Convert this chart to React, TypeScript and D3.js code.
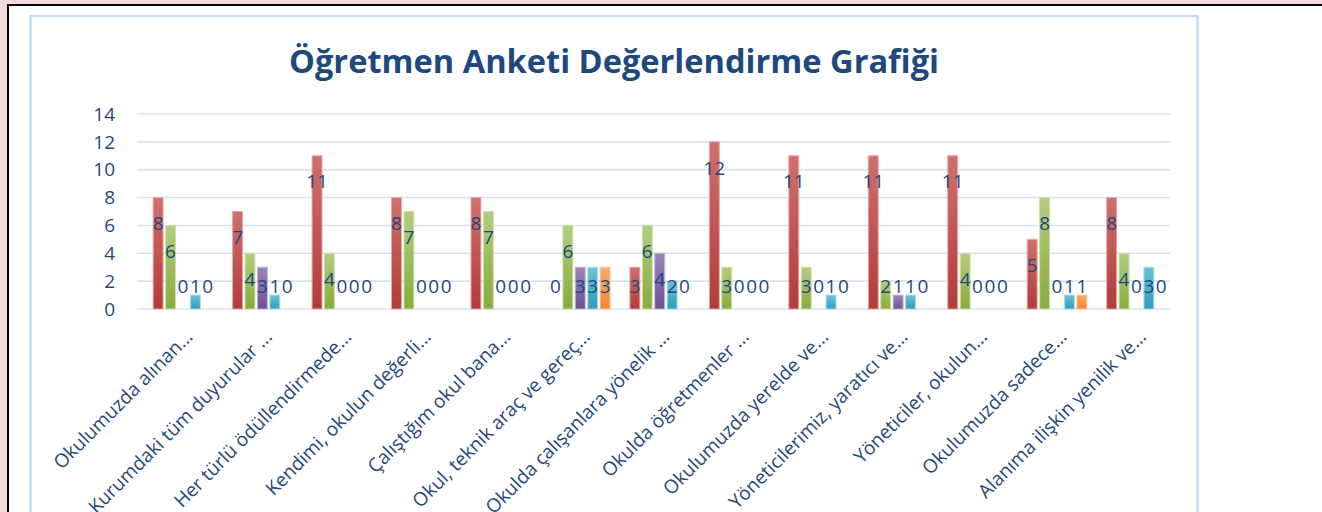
import React from 'react'
import * as d3 from 'd3'

const categories = [
  'Okulumuzda alınan...',
  'Kurumdaki tüm duyurular ...',
  'Her türlü ödüllendirmede...',
  'Kendimi, okulun değerli...',
  'Çalıştığım okul bana...',
  'Okul, teknik araç ve gereç...',
  'Okulda çalışanlara yönelik ...',
  'Okulda öğretmenler ...',
  'Okulumuzda yerelde ve...',
  'Yöneticilerimiz, yaratıcı ve...',
  'Yöneticiler, okulun...',
  'Okulumuzda sadece...',
  'Alanıma ilişkin yenilik ve...',
]

const seriesNames = ['Kesinlikle Katılıyorum', 'Katılıyorum', 'Kararsızım', 'Katılmıyorum', 'Kesinlikle Katılmıyorum']

// one array per series, in category order
const kesinlikleKatiliyorum = [8, 7, 11, 8, 8, 0, 3, 12, 11, 11, 11, 5, 8]
const katiliyorum = [6, 4, 4, 7, 7, 6, 6, 3, 3, 2, 4, 8, 4]
const kararsizim = [0, 3, 0, 0, 0, 3, 4, 0, 0, 1, 0, 0, 0]
const katilmiyorum = [1, 1, 0, 0, 0, 3, 2, 0, 1, 1, 0, 1, 3]
const kesinlikleKatilmiyorum = [0, 0, 0, 0, 0, 3, 0, 0, 0, 0, 0, 1, 0]

const seriesValues = [kesinlikleKatiliyorum, katiliyorum, kararsizim, katilmiyorum, kesinlikleKatilmiyorum]
const yTicks = [0, 2, 4, 6, 8, 10, 12, 14]

const colors = [
  { top: '#d0706d', bot: '#b23b38', edge: '#e3a9a7' },
  { top: '#b3cd80', bot: '#88ab3e', edge: '#cfe0ad' },
  { top: '#9c86b8', bot: '#6e4f95', edge: '#c2b5d5' },
  { top: '#6fc3d8', bot: '#2e9ebb', edge: '#a9dcea' },
  { top: '#fbab6c', bot: '#f2872d', edge: '#fcc99e' },
]

const textColor = '#1f497d'
const font = '"Open Sans", "Noto Sans", sans-serif'

export default function App() {
  const W = 1322
  const H = 512
  const left = 137
  const right = 1170
  const top = 114
  const bottom = 309

  const x0 = d3.scaleBand<string>().domain(categories).range([left, right]).padding(0)
  // first slot is an empty (unused) series in the original workbook
  const x1 = d3.scaleBand<string>()
    .domain(['_', ...seriesNames])
    .range([0, x0.bandwidth()])
    .paddingInner(0.2)
    .paddingOuter(0.3)
  const y = d3.scaleLinear().domain([0, 14]).range([bottom, top])

  return (
    <svg width={W} height={H} style={{ position: 'absolute', left: 0, top: 0, fontFamily: font }}>
      <defs>
        {colors.map((c, i) => (
          <linearGradient key={i} id={`g${i}`} x1="0" y1="0" x2="0" y2="1">
            <stop offset="0%" stopColor={c.top} />
            <stop offset="100%" stopColor={c.bot} />
          </linearGradient>
        ))}
      </defs>

      <rect x={0} y={0} width={W} height={H} fill="#f2dcdb" />
      <rect x={8} y={5} width={W} height={H} fill="#ffffff" stroke="#000" strokeWidth={2} />
      <rect x={30.5} y={16} width={1167} height={H} fill="#ffffff" stroke="#c6d9f1" strokeWidth={2.5} />

      <text x={614} y={73} textAnchor="middle" fontSize={32} fontWeight="bold" fill={textColor}
        textLength={650} lengthAdjust="spacingAndGlyphs">
        Öğretmen Anketi Değerlendirme Grafiği
      </text>

      {yTicks.map(t => (
        <g key={t}>
          <line x1={left} x2={right} y1={y(t)} y2={y(t)} stroke="#d8e3f1" strokeWidth={1.6} />
          <text x={115} y={y(t)} dy="0.35em" textAnchor="end" fontSize={19} fill={textColor}>{t}</text>
        </g>
      ))}

      {categories.map((cat, ci) => (
        <g key={cat}>
          {seriesNames.map((s, si) => {
            const v = seriesValues[si][ci]
            const bx = x0(cat)! + x1(s)!
            const bw = x1.bandwidth()
            return (
              <g key={s}>
                {v > 0 && (
                  <rect x={bx} y={y(v)} width={bw} height={y(0) - y(v)}
                    fill={`url(#g${si})`} stroke={colors[si].edge} strokeWidth={1} />
                )}
                <text x={bx + bw / 2} y={Math.min(y(v) + 26, 286)} dy="0.35em" textAnchor="middle"
                  fontSize={19} fill={textColor}>{v}</text>
              </g>
            )
          })}
          <text
            transform={`translate(${x0(cat)! + x0.bandwidth() / 2 + 17},${338}) rotate(-45)`}
            textAnchor="end" fontSize={19} fill={textColor}>
            {cat}
          </text>
        </g>
      ))}
    </svg>
  )
}
